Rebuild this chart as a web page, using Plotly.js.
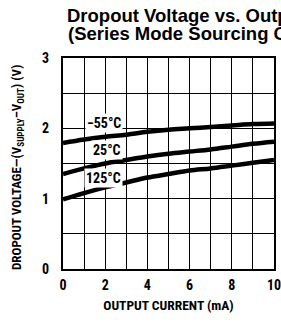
<!DOCTYPE html>
<html>
<head>
<meta charset="utf-8">
<script src="https://cdn.plot.ly/plotly-3.0.1.min.js"></script>
<style>html,body{margin:0;padding:0;background:#fff;}#chart{width:281px;height:324px;}</style>
</head>
<body>
<div id="chart"></div>
<script>
// Data
const outputCurrent = [0, 1, 2, 3, 4, 5, 6, 7, 8, 9, 10]; // mA
const dropoutMinus55 = [1.79, 1.84, 1.88, 1.91, 1.95, 1.98, 2.00, 2.02, 2.04, 2.06, 2.07];
const dropout25 = [1.35, 1.43, 1.50, 1.55, 1.60, 1.64, 1.67, 1.70, 1.74, 1.78, 1.81];
const dropout125 = [0.99, 1.08, 1.16, 1.23, 1.30, 1.35, 1.40, 1.43, 1.47, 1.51, 1.55];
const seriesNames = ['\u221255\u00b0C', '25\u00b0C', '125\u00b0C'];
const xTickVals = [0, 2, 4, 6, 8, 10];
const xTickText = ['0', '2', '4', '6', '8', '10'];
const yTickVals = [0, 1, 2, 3];
const yTickText = ['0', '1', '2', '3'];
const titleLines = ['Dropout Voltage vs. Output Current', '(Series Mode Sourcing Current)'];
const xTitle = 'OUTPUT CURRENT (mA)';
const yTitle = 'DROPOUT VOLTAGE\u2014(V<sub>SUPPLY</sub>\u2013V<sub>OUT</sub>) (V)';
// label anchor positions (data coords)
const labelX = [2.84, 2.84, 2.84];
const labelY = [2.076, 1.692, 1.294];

const cond = '"Roboto Condensed", "DejaVu Sans Condensed", sans-serif';
const titleFont = {family: '"Liberation Sans", Arial, sans-serif', size: 18.5, color: '#000', weight: 'bold'};
const lineStyle = {color: '#000', width: 4.5};

const traces = [dropoutMinus55, dropout25, dropout125].map((ys, i) => ({
  x: outputCurrent, y: ys, type: 'scatter', mode: 'lines', name: seriesNames[i],
  line: Object.assign({shape: 'spline'}, lineStyle), hoverinfo: 'skip'
}));

const annotations = [];
seriesNames.forEach((n, i) => annotations.push({
  x: labelX[i], y: labelY[i], xref: 'x', yref: 'y', text: n, showarrow: false,
  xanchor: 'right', yanchor: 'middle', bgcolor: '#fff', borderpad: 1,
  font: {family: cond, size: 14, color: '#000', weight: 'bold'}
}));
annotations.push({
  x: (66 - 63) / 211, y: (269 - 33.3) / 211, xref: 'paper', yref: 'paper',
  text: titleLines[1], showarrow: false, xanchor: 'left', yanchor: 'middle',
  font: titleFont
});
annotations.push({
  x: (17 - 63) / 211, y: (269 - 168) / 211, xref: 'paper', yref: 'paper',
  text: yTitle, showarrow: false, xanchor: 'center', yanchor: 'middle', textangle: -90,
  font: {family: cond, size: 13, color: '#000', weight: 'bold'}
});

const axisCommon = {
  showgrid: true, gridcolor: '#000', gridwidth: 1, zeroline: false,
  showline: true, linecolor: '#000', linewidth: 2, mirror: true,
  ticks: '', tickfont: {family: cond, size: 14, color: '#000', weight: 'bold'},
  ticklabeloverflow: 'allow', fixedrange: true
};

const layout = {
  width: 281, height: 324,
  margin: {l: 63, r: 7, t: 58, b: 55, pad: 0},
  paper_bgcolor: '#fff', plot_bgcolor: '#fff',
  showlegend: false,
  title: {text: titleLines[0], x: 67 / 281, xanchor: 'left', xref: 'container', yref: 'container',
    y: 1 - 15.2 / 324, yanchor: 'middle', font: titleFont, pad: {t: 0, b: 0, l: 0, r: 0}},
  xaxis: Object.assign({}, axisCommon, {range: [0, 10], tickmode: 'array', tickvals: xTickVals, ticktext: xTickText, ticklabelstandoff: 2,
    title: {text: xTitle, standoff: 9, font: {family: cond, size: 13.5, color: '#000', weight: 'bold'}},
    minor: {dtick: 1, showgrid: true, gridcolor: '#000', gridwidth: 1, ticks: ''}}),
  yaxis: Object.assign({}, axisCommon, {range: [0, 3], tickmode: 'array', tickvals: yTickVals, ticktext: yTickText, ticklabelstandoff: 9,
    minor: {dtick: 0.5, showgrid: true, gridcolor: '#000', gridwidth: 1, ticks: ''}}),
  annotations: annotations
};

Plotly.newPlot('chart', traces, layout, {displayModeBar: false, staticPlot: true});
</script>
</body>
</html>
